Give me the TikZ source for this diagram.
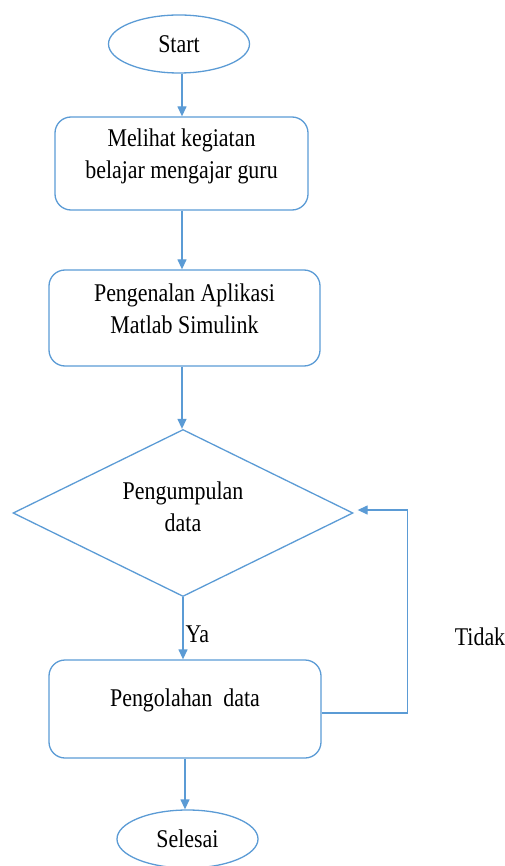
\documentclass[tikz,border=0pt]{standalone}
\usepackage{fontspec}
\setmainfont{Liberation Serif}[FakeStretch=0.86]
\usetikzlibrary{shapes.geometric,arrows.meta}
\definecolor{lineblue}{HTML}{5B9BD5}
\begin{document}
\begin{tikzpicture}[x=1pt,y=-1pt,
  every node/.style={font=\fontsize{25.5}{32}\selectfont, inner sep=0pt},
  oval/.style={ellipse, draw=lineblue, line width=1.3pt, minimum width=141pt, minimum height=58pt},
  procbox/.style={rectangle, rounded corners=16pt, draw=lineblue, line width=1.3pt, align=center},
  decision/.style={diamond, shape aspect=2.04, draw=lineblue, line width=1.3pt, align=center, minimum width=340pt, minimum height=167pt},
  arr/.style={draw=lineblue, line width=1.3pt, -{Triangle[length=10pt,width=9pt]}}]
\useasboundingbox (0,0) rectangle (505,866);
\begin{scope}
\clip (0,0) rectangle (505,866);
\node[oval] (start) at (179,44) {Start};
\node[procbox, minimum width=253pt, minimum height=93pt, text depth=20pt] (b1) at (181.5,163.5) {Melihat kegiatan\\belajar mengajar guru};
\node[procbox, minimum width=271pt, minimum height=96pt, text depth=18pt] (b2) at (184.5,318) {Pengenalan Aplikasi\\Matlab Simulink};
\node[decision, text depth=12pt] (dia) at (183,513) {Pengumpulan\\data};
\node[procbox, minimum width=272pt, minimum height=98pt, text depth=22pt] (b3) at (185,709) {Pengolahan\ \ data};
\node[oval] (sel) at (187.5,839) {Selesai};
\node (tidak) at (480,637) {Tidak};
\draw[arr] (start.south -| 182,0) -- (b1.north -| 182,0);
\draw[arr] (b1.south -| 182,0) -- (b2.north -| 182,0);
\draw[arr] (b2.south -| 182,0) -- (dia.north -| 182,0);
\draw[arr] (dia.south) -- (dia.south |- b3.north) node[pos=0.6, right=2pt] (ya) {Ya};
\draw[arr] (b3.south) -- (b3.south |- sel.north);
\draw[arr] ([yshift=-4pt]b3.east) -- ++(86,0) |- ([xshift=4pt,yshift=3pt]dia.east);
\end{scope}
\end{tikzpicture}
\end{document}
